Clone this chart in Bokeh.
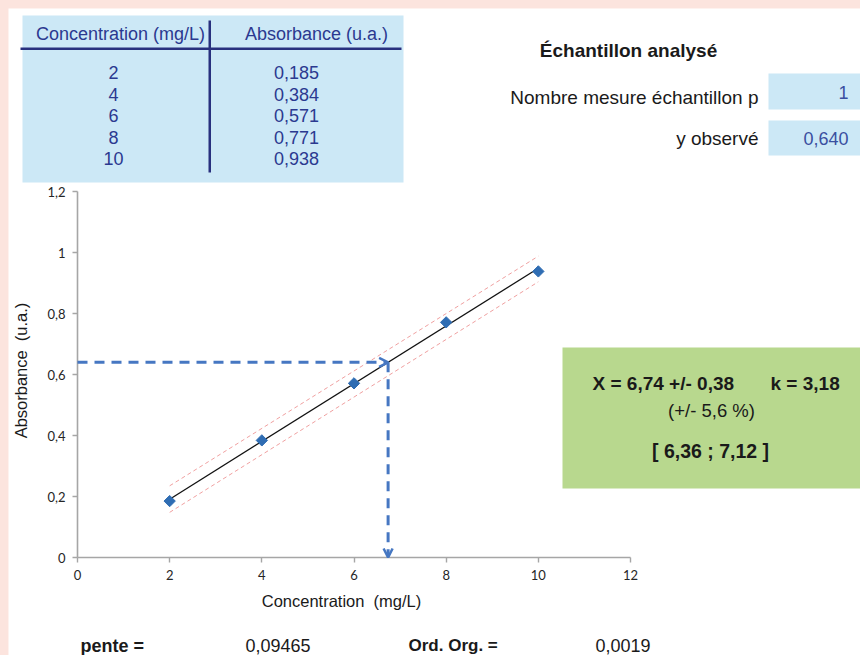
from math import pi
from bokeh.plotting import figure
from bokeh.models import (Range1d, FixedTicker, Label, BoxAnnotation, Arrow, OpenHead)
from bokeh.embed import file_html
from bokeh.resources import INLINE

# ---------------- data ----------------
concentration = [2, 4, 6, 8, 10]
absorbance = [0.185, 0.384, 0.571, 0.771, 0.938]
conc_labels = ["2", "4", "6", "8", "10"]
abs_labels = ["0,185", "0,384", "0,571", "0,771", "0,938"]

pente = 0.09465
ord_org = 0.0019
fit_x = [2, 10]
band_x = [2, 10]
band_upper = [0.235, 0.988]
band_lower = [0.148, 0.904]

y_obs = 0.640
x_found = 6.74

x_ticks = [0, 2, 4, 6, 8, 10, 12]
x_tick_labels = ["0", "2", "4", "6", "8", "10", "12"]
y_ticks = [0, 0.2, 0.4, 0.6, 0.8, 1.0, 1.2]
y_tick_labels = ["0", "0,2", "0,4", "0,6", "0,8", "1", "1,2"]

# ---------------- geometry (page pixels) ----------------
W, H = 852, 647            # canvas, placed at page (8, 8)
PX0, PY0 = 8, 8
AX_L, AX_R = 77, 630       # page x of 0 and 12
AX_B, AX_T = 557, 191      # page y of 0 and 1.2
X0, X1 = 0, 12
Y0, Y1 = 0, 1.2
sx = (AX_R - AX_L) / (X1 - X0)
sy = (AX_B - AX_T) / (Y1 - Y0)
x_range = Range1d(X0 - (AX_L - PX0) / sx, X0 + (PX0 + W - AX_L) / sx)
y_range = Range1d(Y0 - (PY0 + H - AX_B) / sy, Y0 + (AX_B - PY0) / sy)

p = figure(width=W, height=H, output_backend="svg", toolbar_location=None,
           x_range=x_range, y_range=y_range,
           min_border=0, min_border_left=0, min_border_right=0,
           min_border_top=0, min_border_bottom=0)
p.outline_line_color = None
p.background_fill_color = "white"
p.border_fill_color = "white"
p.xgrid.visible = False
p.ygrid.visible = False

# page-pixel ranges for the decorations (y downwards)
p.extra_x_ranges = {"px": Range1d(PX0, PX0 + W)}
p.extra_y_ranges = {"py": Range1d(PY0 + H, PY0)}

AX = "#a6a6a6"
p.xaxis.fixed_location = 0
p.yaxis.fixed_location = 0
p.xaxis.bounds = (X0, X1)
p.yaxis.bounds = (Y0, Y1)
for ax in (p.xaxis[0], p.yaxis[0]):
    ax.axis_line_color = AX
    ax.axis_line_width = 1.6
    ax.major_tick_line_color = AX
    ax.major_tick_line_width = 1.4
    ax.major_tick_out = 5
    ax.major_tick_in = 0
    ax.minor_tick_line_color = None
    ax.major_label_text_font = "Lato"
    ax.major_label_text_font_size = "13px"
    ax.major_label_text_color = "#262626"
    ax.major_label_standoff = 7

p.xaxis.ticker = FixedTicker(ticks=x_ticks)
p.yaxis.ticker = FixedTicker(ticks=y_ticks)
p.xaxis.major_label_overrides = dict(zip(x_ticks, x_tick_labels))
p.yaxis.major_label_overrides = dict(zip(y_ticks, y_tick_labels))

# confidence band
PINK = "#f0a0a0"
p.line(band_x, band_upper, line_color=PINK, line_dash="4 3", line_width=1)
p.line(band_x, band_lower, line_color=PINK, line_dash="4 3", line_width=1)

# regression line
fit_y = [pente * xv + ord_org for xv in fit_x]
p.line(fit_x, fit_y, line_color="#111111", line_width=1.3)

# points
p.scatter(concentration, absorbance, marker="square", angle=pi / 4, size=8,
          fill_color="#2f6db3", line_color="#2f6db3")

# read-off arrows
BLUE = "#4677c2"
p.add_layout(Arrow(x_start=0, y_start=y_obs, x_end=x_found, y_end=y_obs,
                   line_color=BLUE, line_width=3, line_dash="10 7",
                   end=OpenHead(size=9, line_color=BLUE, line_width=2.5)))
p.add_layout(Arrow(x_start=x_found, y_start=y_obs, x_end=x_found, y_end=0,
                   line_color=BLUE, line_width=3, line_dash="10 7",
                   end=OpenHead(size=9, line_color=BLUE, line_width=2.5)))

# ---------------- decorations ----------------
def box(l, r, t, b, color):
    p.add_layout(BoxAnnotation(left=l, right=r, top=t, bottom=b,
                               fill_color=color, fill_alpha=1, line_color=None,
                               x_range_name="px", y_range_name="py", level="underlay"))

def txt(x, y, s, align="left", bold=False, color="#1a1a1a", size="18px",
        font="Liberation Sans", angle=0):
    p.add_layout(Label(x=x, y=y, text=s, text_align=align, text_baseline="middle",
                       text_font=font, text_font_size=size, angle=angle,
                       text_font_style="bold" if bold else "normal",
                       text_color=color, x_range_name="px", y_range_name="py"))

# axis titles
txt(341, 600, "Concentration\u00a0 (mg/L)", align="center", size="16.5px")
txt(20, 370, "Absorbance\u00a0 (u.a.)", align="center", size="16.5px", angle=pi / 2)

LBLUE = "#cce8f6"
NAVY = "#2b3990"
LINE = "#28307e"

# table
box(22, 403, 15, 182, LBLUE)
box(20, 401, 47, 49.5, LINE)
box(208, 210.5, 20, 172, LINE)
txt(120, 33, "Concentration (mg/L)", align="center", color=NAVY, size="18px")
txt(316, 33, "Absorbance (u.a.)", align="center", color=NAVY, size="18px")
row_y = [72, 93.5, 115, 136.5, 158]
for yy, c, a in zip(row_y, conc_labels, abs_labels):
    txt(113, yy, c, align="center", color=NAVY)
    txt(296, yy, a, align="center", color=NAVY)

# sample box
txt(628, 50, "Échantillon analysé", align="center", bold=True, size="19px")
txt(758, 97, "Nombre mesure échantillon p", align="right", size="19px")
txt(758, 138, "y observé", align="right", size="19px")
box(768, 862, 73, 109, LBLUE)
box(768, 862, 120, 155, LBLUE)
txt(848, 92, "1", align="right", color="#3a4fa0")
txt(848, 138, "0,640", align="right", color="#3a4fa0")

# result box
box(562, 862, 347, 488, "#b8d88e")
txt(592, 383, "X = 6,74 +/- 0,38", bold=True, size="19px")
txt(770, 383, "k = 3,18", bold=True, size="19px")
txt(711, 410, "(+/- 5,6 %)", align="center", size="18.5px")
txt(710, 450, "[ 6,36 ; 7,12 ]", align="center", bold=True, size="19.5px")

# bottom line
txt(80, 645, "pente =", bold=True)
txt(245, 645, "0,09465")
txt(408, 645, "Ord. Org. =", bold=True, size="17px")
txt(595, 645, "0,0019")

html = file_html(p, INLINE)
html = html.replace(
    "</head>",
    "<style>body{padding:8px 0 0 8px !important;background-color:#fce4de;}</style></head>", 1)
open("out.html", "w").write(html)
